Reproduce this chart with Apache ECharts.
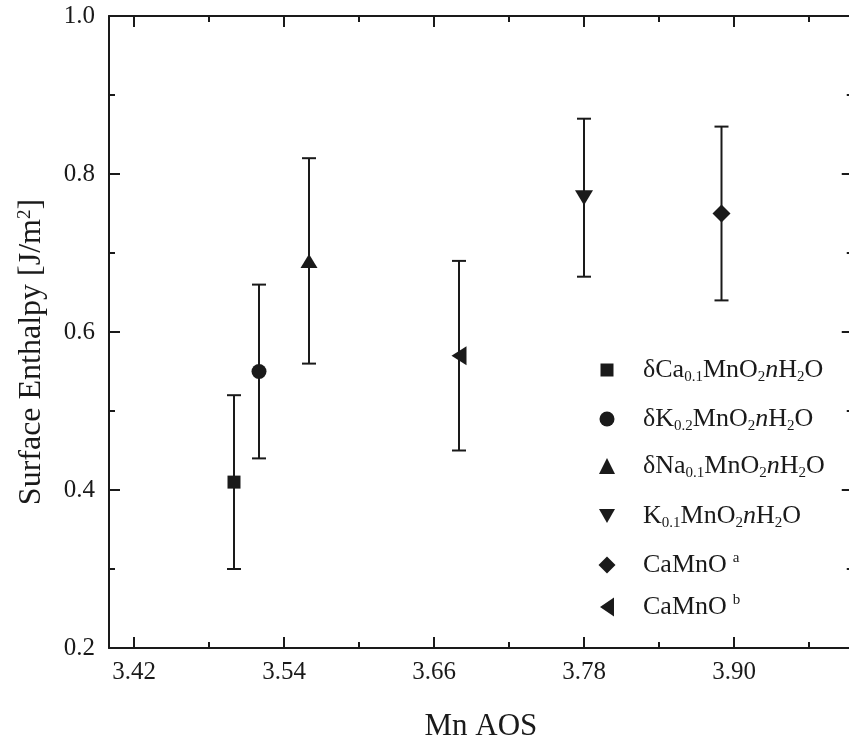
<!DOCTYPE html>
<html><head><meta charset="utf-8">
<script src="https://cdn.jsdelivr.net/npm/echarts@6/dist/echarts.min.js"></script>
<style>html,body{margin:0;padding:0;background:#fff}#c{width:849px;height:738px}</style>
</head><body><div id="c"></div>
<script>
// ---- data ----
const seriesNames = ['dCa', 'dK', 'dNa', 'K', 'CaMnOa', 'CaMnOb'];
const legendLabels = [
  '{a|δCa}{s|0.1}{a|MnO}{s|2}{i|n}{a|H}{s|2}{a|O}',
  '{a|δK}{s|0.2}{a|MnO}{s|2}{i|n}{a|H}{s|2}{a|O}',
  '{a|δNa}{s|0.1}{a|MnO}{s|2}{i|n}{a|H}{s|2}{a|O}',
  '{a|K}{s|0.1}{a|MnO}{s|2}{i|n}{a|H}{s|2}{a|O}',
  '{a|CaMnO}{p|a}',
  '{a|CaMnO}{p|b}'
];
const xValues = [3.50, 3.52, 3.56, 3.78, 3.89, 3.68];
const yValues = [0.41, 0.55, 0.69, 0.77, 0.75, 0.57];
const errLow  = [0.30, 0.44, 0.56, 0.67, 0.64, 0.45];
const errHigh = [0.52, 0.66, 0.82, 0.87, 0.86, 0.69];
const xMajorTicks = [3.42, 3.54, 3.66, 3.78, 3.90];
const xMinorTicks = [3.48, 3.60, 3.72, 3.84, 3.96];
const xName = 'Mn AOS';
const yName = 'Surface Enthalpy [J/m{p|2}]';

// ---- styles ----
const symbols = ['rect', 'circle', 'triangle', 'triangle', 'diamond', 'triangle'];
const symbolSizes = [[13, 13], [15, 15], [17, 14], [18, 15], [18, 18], [19, 15]];
const symbolRotates = [0, 0, 0, 180, 0, 90];
const legendIcons = [null, null, null, 'path://M0,0L16,0L8,14Z', null, 'path://M14,0L14,19L0,9.5Z'];
const legendCenters = [372, 421, 468, 518, 565, 607];
const legendIconSizes = [[13, 13], [15, 15], [16, 16], [16, 16], [17, 17], [14, 19]];

const INK = '#1a1a1a';
const FONT = 'Liberation Serif';
const XMIN = 3.40, XMAX = 3.995;

const chart = echarts.init(document.getElementById('c'), null, {renderer: 'canvas'});

const richLegend = {
  a: {fontFamily: FONT, fontSize: 26, lineHeight: 30, color: INK},
  i: {fontFamily: FONT, fontSize: 26, lineHeight: 30, color: INK, fontStyle: 'italic'},
  s: {fontFamily: FONT, fontSize: 15, lineHeight: 15, color: INK, verticalAlign: 'bottom'},
  p: {fontFamily: FONT, fontSize: 15, lineHeight: 15, color: INK, verticalAlign: 'top', padding: [1, 0, 0, 6]}
};

const legends = seriesNames.map((n, i) => {
  const w = legendIconSizes[i][0], h = legendIconSizes[i][1];
  const left = 607 - w / 2;
  const item = legendIcons[i] ? {name: n, icon: legendIcons[i]} : {name: n};
  return {
    data: [item],
    left: left,
    top: legendCenters[i] - 15,
    padding: 0,
    itemWidth: w,
    itemHeight: h,
    selectedMode: false,
    itemStyle: {color: INK},
    formatter: () => legendLabels[i],
    textStyle: {padding: [0, 0, 0, 643 - (left + w + 5)], rich: richLegend}
  };
});

const baseX = {
  type: 'value', min: XMIN, max: XMAX, splitLine: {show: false},
  axisLine: {show: false}, axisLabel: {show: false},
  axisTick: {show: true, inside: true, length: 11, lineStyle: {color: INK, width: 2}}
};

const scatterSeries = seriesNames.map((n, i) => ({
  type: 'scatter', name: n, xAxisIndex: 0, yAxisIndex: 0,
  symbol: symbols[i], symbolSize: symbolSizes[i], symbolRotate: symbolRotates[i],
  itemStyle: {color: INK, opacity: 1},
  data: [[xValues[i], yValues[i]]], z: 5, silent: true
}));

const errData = xValues.map((x, i) => [x, errLow[i], errHigh[i]]);

const option = {
  backgroundColor: '#fff',
  animation: false,
  grid: {left: 109, top: 16, width: (XMAX - XMIN) * 1250, height: 632, outerBoundsMode: 'none', containLabel: false},
  legend: legends,
  xAxis: [
    Object.assign({}, baseX, {
      position: 'bottom',
      name: xName, nameLocation: 'middle', nameGap: 63,
      nameTextStyle: {fontFamily: FONT, fontSize: 31, color: INK},
      axisLine: {show: true, onZero: false, lineStyle: {color: INK, width: 2}},
      axisTick: {show: true, inside: true, length: 11, customValues: xMajorTicks, lineStyle: {color: INK, width: 2}},
      axisLabel: {show: true, customValues: xMajorTicks, margin: 12, fontFamily: FONT, fontSize: 25, color: INK,
        formatter: v => v.toFixed(2)}
    }),
    Object.assign({}, baseX, {
      position: 'bottom',
      axisTick: {show: true, inside: true, length: 6, customValues: xMinorTicks, lineStyle: {color: INK, width: 2}}
    }),
    Object.assign({}, baseX, {
      position: 'top',
      axisLine: {show: true, onZero: false, lineStyle: {color: INK, width: 2}},
      axisTick: {show: true, inside: true, length: 11, customValues: xMajorTicks, lineStyle: {color: INK, width: 2}}
    }),
    Object.assign({}, baseX, {
      position: 'top',
      axisTick: {show: true, inside: true, length: 6, customValues: xMinorTicks, lineStyle: {color: INK, width: 2}}
    })
  ],
  yAxis: [
    {
      type: 'value', position: 'left', min: 0.2, max: 1.0, interval: 0.2,
      name: yName, nameLocation: 'middle', nameGap: 61,
      nameTextStyle: {fontFamily: FONT, fontSize: 32, color: INK, padding: [0, 40, 0, 0],
        rich: {p: {fontFamily: FONT, fontSize: 19, color: INK, verticalAlign: 'top', lineHeight: 19}}},
      splitLine: {show: false},
      axisLine: {show: true, onZero: false, lineStyle: {color: INK, width: 2}},
      axisTick: {show: true, inside: true, length: 11, lineStyle: {color: INK, width: 2}},
      minorTick: {show: true, splitNumber: 2, length: 6, lineStyle: {color: INK, width: 2}},
      axisLabel: {margin: 14, fontFamily: FONT, fontSize: 25, color: INK, formatter: v => v.toFixed(1)}
    },
    {
      type: 'value', position: 'right', min: 0.2, max: 1.0, interval: 0.2,
      splitLine: {show: false},
      axisLine: {show: true, onZero: false, lineStyle: {color: INK, width: 2}},
      axisTick: {show: true, inside: true, length: 11, lineStyle: {color: INK, width: 2}},
      minorTick: {show: true, splitNumber: 2, length: 6, lineStyle: {color: INK, width: 2}},
      axisLabel: {show: false}
    }
  ],
  series: [
    {
      type: 'custom', name: 'errorbars', xAxisIndex: 0, yAxisIndex: 0, z: 2, silent: true,
      encode: {x: 0, y: [1, 2]},
      data: errData,
      renderItem: function (params, api) {
        const x = api.value(0);
        const lo = api.coord([x, api.value(1)]);
        const hi = api.coord([x, api.value(2)]);
        const hw = 7;
        const st = {stroke: INK, lineWidth: 2};
        return {
          type: 'group',
          children: [
            {type: 'line', shape: {x1: lo[0], y1: lo[1], x2: hi[0], y2: hi[1]}, style: st},
            {type: 'line', shape: {x1: lo[0] - hw, y1: lo[1], x2: lo[0] + hw, y2: lo[1]}, style: st},
            {type: 'line', shape: {x1: hi[0] - hw, y1: hi[1], x2: hi[0] + hw, y2: hi[1]}, style: st}
          ]
        };
      }
    }
  ].concat(scatterSeries)
};
chart.setOption(option);
</script></body></html>
